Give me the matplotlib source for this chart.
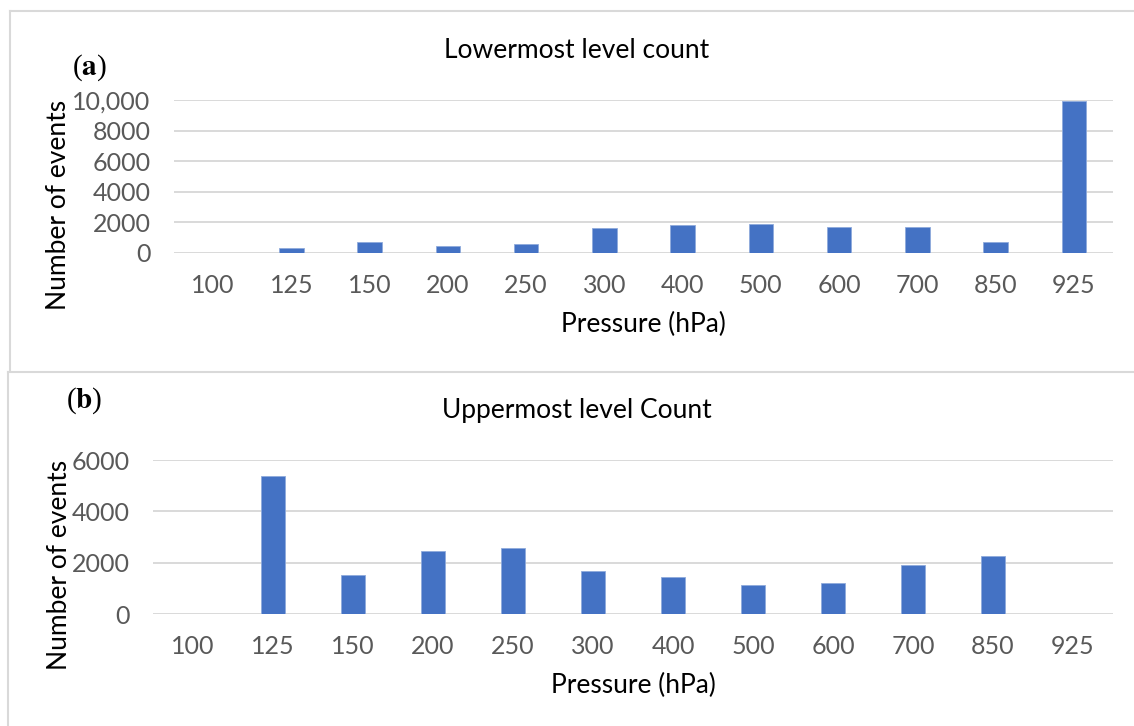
import matplotlib
matplotlib.use("Agg")
import matplotlib.pyplot as plt
from matplotlib.lines import Line2D
from matplotlib.ticker import FuncFormatter
import numpy as np

plt.rcParams['font.family'] = ['Lato', 'DejaVu Sans']
plt.rcParams['mathtext.fontset'] = 'stix'

# pressure levels and event counts
levels = ['100', '125', '150', '200', '250', '300', '400', '500', '600', '700', '850', '925']
lowermost = [0, 300, 700, 450, 580, 1620, 1840, 1900, 1680, 1700, 700, 9950]
uppermost = [0, 5390, 1530, 2465, 2570, 1680, 1450, 1135, 1200, 1915, 2270, 0]

bar_color = '#4472C4'
grid_color = '#D9D9D9'
tick_color = '#595959'

W, H = 1134, 726
fig = plt.figure(figsize=(W / 100, H / 100), dpi=100)


def px_axes(x0, y0, x1, y1):
    # axes from pixel box (top-left origin)
    return fig.add_axes([x0 / W, 1 - y1 / H, (x1 - x0) / W, (y1 - y0) / H])


def style(ax, values, ymax, step, xlab_pos, ylab_pos):
    x = np.arange(len(levels))
    ax.bar(x, values, width=0.31, color=bar_color, edgecolor='#8FAADC', linewidth=0.6, zorder=3)
    ax.set_xlim(-0.5, len(levels) - 0.5)
    ax.set_ylim(0, ymax)
    ax.set_yticks(np.arange(0, ymax + 1, step))
    ax.yaxis.set_major_formatter(FuncFormatter(lambda v, p: f'{int(v):,}' if v >= 10000 else f'{int(v)}'))
    ax.set_xticks(x)
    ax.set_xticklabels(levels)
    ax.grid(axis='y', color=grid_color, linewidth=1.4, zorder=0)
    for s in ax.spines.values():
        s.set_visible(False)
    ax.tick_params(length=0, labelsize=18, labelcolor=tick_color)
    ax.tick_params(axis='y', pad=17)
    ax.tick_params(axis='x', pad=15)
    ax.set_xlabel('Pressure (hPa)', fontsize=19, va='center')
    ax.set_ylabel('Number of events', fontsize=19, va='center', ha='center')
    ax.xaxis.set_label_coords(*xlab_pos)
    ax.yaxis.set_label_coords(*ylab_pos)


ax1 = px_axes(174, 100, 1113, 253)
style(ax1, lowermost, 10000, 2000, (0.5, -0.47), (-0.1225, 0.314))
fig.text(577 / W, 1 - 50 / H, 'Lowermost level count', ha='center', va='center', fontsize=19)
fig.text(72 / W, 1 - 68 / H, r'($\mathbf{a}$)', ha='left', va='center', fontsize=21,
         family='Liberation Serif')

ax2 = px_axes(153, 460, 1113, 614)
style(ax2, uppermost, 6000, 2000, (0.5, -0.461), (-0.097, 0.318))
fig.text(577 / W, 1 - 410 / H, 'Uppermost level Count', ha='center', va='center', fontsize=19)
fig.text(66 / W, 1 - 401 / H, r'($\mathbf{b}$)', ha='left', va='center', fontsize=21,
         family='Liberation Serif')

# panel frames
frame = dict(color='#D9D9D9', linewidth=1.5, transform=fig.transFigure)
fig.add_artist(Line2D([10 / W, 1], [1 - 11 / H, 1 - 11 / H], **frame))
fig.add_artist(Line2D([10 / W, 10 / W], [1 - 11 / H, 1 - 371 / H], **frame))
fig.add_artist(Line2D([8 / W, 1], [1 - 372 / H, 1 - 372 / H], **frame))
fig.add_artist(Line2D([8 / W, 8 / W], [1 - 372 / H, 0], **frame))

fig.savefig('out.png', dpi=100)
